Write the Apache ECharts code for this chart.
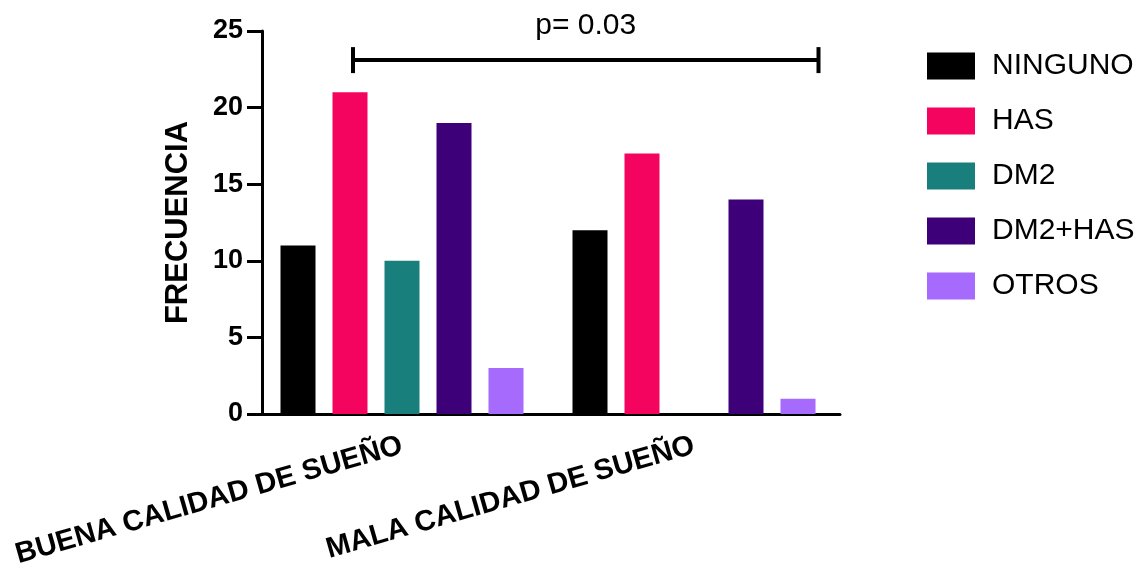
<!DOCTYPE html>
<html>
<head>
<meta charset="utf-8">
<script src="https://cdn.jsdelivr.net/npm/echarts@6/dist/echarts.min.js"></script>
<style>
  html, body { margin: 0; padding: 0; background: #fff; }
  #chart { width: 1146px; height: 565px; }
</style>
</head>
<body>
<div id="chart"></div>
<script>
// ---- data ----
var categories = ['BUENA CALIDAD DE SUEÑO', 'MALA CALIDAD DE SUEÑO'];
var seriesNames = ['NINGUNO', 'HAS', 'DM2', 'DM2+HAS', 'OTROS'];
var ninguno = [11, 12];
var has = [21, 17];
var dm2 = [10, 0];
var dm2has = [19, 14];
var otros = [3, 1];
var yAxisName = 'FRECUENCIA';
var pLabel = 'p= 0.03';
var bracketLevel = 23.1;

// ---- styles ----
var FONT = '"Liberation Sans", Arial, Helvetica, sans-serif';
var colors = ['#000000', '#F4045F', '#187F7C', '#3D0078', '#A66BFD'];
var BAR_W = 35, BAR_GAP = 17;

var valuesList = [ninguno, has, dm2, dm2has, otros];
var barSeries = seriesNames.map(function (n, i) {
  return {
    name: n,
    type: 'bar',
    data: valuesList[i],
    barWidth: BAR_W,
    barGap: (BAR_GAP / BAR_W * 100) + '%',
    itemStyle: { color: colors[i] },
    emphasis: { disabled: true }
  };
});

var bracketSeries = {
  type: 'custom',
  name: 'bracket',
  data: [[0, bracketLevel]],
  clip: false,
  silent: true,
  renderItem: function (params, api) {
    var p0 = api.coord([0, bracketLevel]);
    var p1 = api.coord([1, bracketLevel]);
    var pitch = BAR_W + BAR_GAP;
    var x0 = p0[0] - pitch + 3;
    var x1 = p1[0] + 2 * pitch + BAR_W / 2 + 3;
    var y = p0[1];
    var st = { stroke: '#000', lineWidth: 4 };
    return {
      type: 'group',
      children: [
        { type: 'line', shape: { x1: x0, y1: y, x2: x1, y2: y }, style: st },
        { type: 'line', shape: { x1: x0, y1: y - 13, x2: x0, y2: y + 13 }, style: st },
        { type: 'line', shape: { x1: x1, y1: y - 13, x2: x1, y2: y + 13 }, style: st },
        { type: 'text', style: { text: pLabel, x: (x0 + x1) / 2, y: y - 34,
            align: 'center', verticalAlign: 'middle', fontSize: 30, fontFamily: FONT, fill: '#000' } }
      ]
    };
  }
};

var chart = echarts.init(document.getElementById('chart'), null, { renderer: 'canvas' });
chart.setOption({
  animation: false,
  backgroundColor: '#ffffff',
  grid: { left: 256, width: 584, top: 31, height: 383, containLabel: false, outerBoundsMode: 'none' },
  legend: {
    data: seriesNames,
    orient: 'vertical',
    left: 922,
    top: 46,
    icon: 'rect',
    itemWidth: 48,
    itemHeight: 27,
    itemGap: 25,
    selectedMode: false,
    textStyle: { fontSize: 30, fontFamily: FONT, color: '#000', padding: [0, 0, 0, 12], lineHeight: 27 }
  },
  xAxis: {
    type: 'category',
    data: categories,
    axisLine: { lineStyle: { color: '#000', width: 3 } },
    axisTick: { alignWithLabel: true, length: 16, lineStyle: { color: '#000', width: 3 } },
    axisLabel: { rotate: 16, margin: 31, fontSize: 29, fontWeight: 'bold', fontFamily: FONT, color: '#000', interval: 0 },
    splitLine: { show: false }
  },
  yAxis: {
    type: 'value',
    min: 0, max: 25, interval: 5,
    offset: -6,
    name: yAxisName,
    nameLocation: 'middle',
    nameGap: 68,
    nameTextStyle: { fontSize: 31, fontWeight: 'bold', fontFamily: FONT, color: '#000' },
    axisLine: { show: true, lineStyle: { color: '#000', width: 3 } },
    axisTick: { show: true, length: 15, lineStyle: { color: '#000', width: 3 } },
    axisLabel: { margin: 19, fontSize: 27, fontWeight: 'bold', fontFamily: FONT, color: '#000' },
    splitLine: { show: false }
  },
  series: barSeries.concat([bracketSeries])
});
</script>
</body>
</html>
